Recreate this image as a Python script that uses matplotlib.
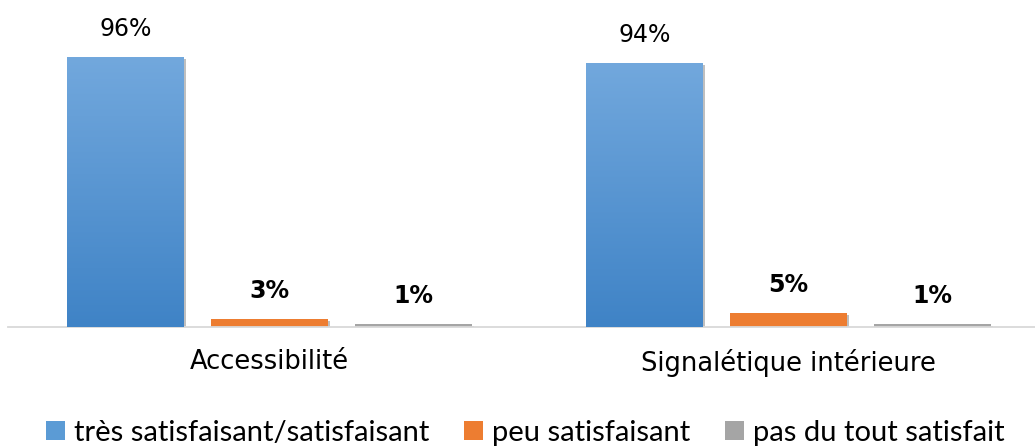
import matplotlib
matplotlib.use("Agg")
import matplotlib.pyplot as plt
import matplotlib.patheffects as pe
import matplotlib.patches as mpatches
from matplotlib.colors import LinearSegmentedColormap
import numpy as np

# ---- data -------------------------------------------------------------------
categories = ["Accessibilité", "Signalétique intérieure"]
series_names = ["très satisfaisant/satisfaisant", "peu satisfaisant", "pas du tout satisfait"]
tres_satisfaisant = [0.96, 0.94]
peu_satisfaisant = [0.03, 0.05]
pas_satisfait = [0.01, 0.01]
value_labels = [["96%", "94%"], ["3%", "5%"], ["1%", "1%"]]

# ---- style ------------------------------------------------------------------
COLORS = ["#5b9bd5", "#ed7d31", "#a5a5a5"]
GRAD_TOP, GRAD_BOT = "#72a8dd", "#3f83c6"
BOLD = [False, True, True]
FONT = "DejaVu Sans"

fig = plt.figure(figsize=(10.35, 4.48), dpi=100)
ax = fig.add_axes([8 / 1035, 121 / 448, 1027 / 1035, 281 / 448])

x = np.arange(len(categories))
bw = 0.2254
pitch = 0.2775
series = [tres_satisfaisant, peu_satisfaisant, pas_satisfait]
shadow = [pe.SimplePatchShadow(offset=(1.5, -1.5), shadow_rgbFace="#000000", alpha=0.25), pe.Normal()]

grad = np.linspace(0, 1, 256).reshape(-1, 1)
cmap = LinearSegmentedColormap.from_list("g", [GRAD_BOT, GRAD_TOP])

for k, vals in enumerate(series):
    xpos = x + (k - 1) * pitch
    bars = ax.bar(xpos, vals, bw, color=COLORS[k], zorder=2)
    for bar, lab in zip(bars, value_labels[k]):
        bar.set_path_effects(shadow)
        if k == 0:
            x0, y0 = bar.get_x(), bar.get_y()
            im = ax.imshow(grad, cmap=cmap, origin="lower", aspect="auto",
                           extent=(x0, x0 + bar.get_width(), y0, y0 + bar.get_height()),
                           zorder=3)
            im.set_clip_path(bar)
        ax.annotate(lab, (bar.get_x() + bar.get_width() / 2, bar.get_height()),
                    xytext=(0, 20), textcoords="offset points",
                    ha="center", va="center", fontsize=17, family=FONT,
                    fontweight="bold" if BOLD[k] else "normal", color="#000000")

ax.set_xlim(-0.504, 1.475)
ax.set_ylim(0, 1.0)
for s in ["top", "right", "left"]:
    ax.spines[s].set_visible(False)
ax.spines["bottom"].set_color("#d9d9d9")
ax.spines["bottom"].set_linewidth(1.3)
ax.set_yticks([])
ax.set_xticks(x)
ax.set_xticklabels(categories, fontsize=18.5, family=FONT)
ax.tick_params(axis="x", length=0, pad=16)

proxies = [mpatches.Patch(facecolor=COLORS[k], label=series_names[k]) for k in range(3)]
fig.legend(handles=proxies, loc="center", bbox_to_anchor=(525 / 1035, 1 - 433 / 448),
           ncol=3, frameon=False, prop={"family": "Lato", "size": 21},
           handlelength=0.65, handleheight=0.65, handletextpad=0.3, columnspacing=1.2)

fig.savefig("out.png", dpi=100)
